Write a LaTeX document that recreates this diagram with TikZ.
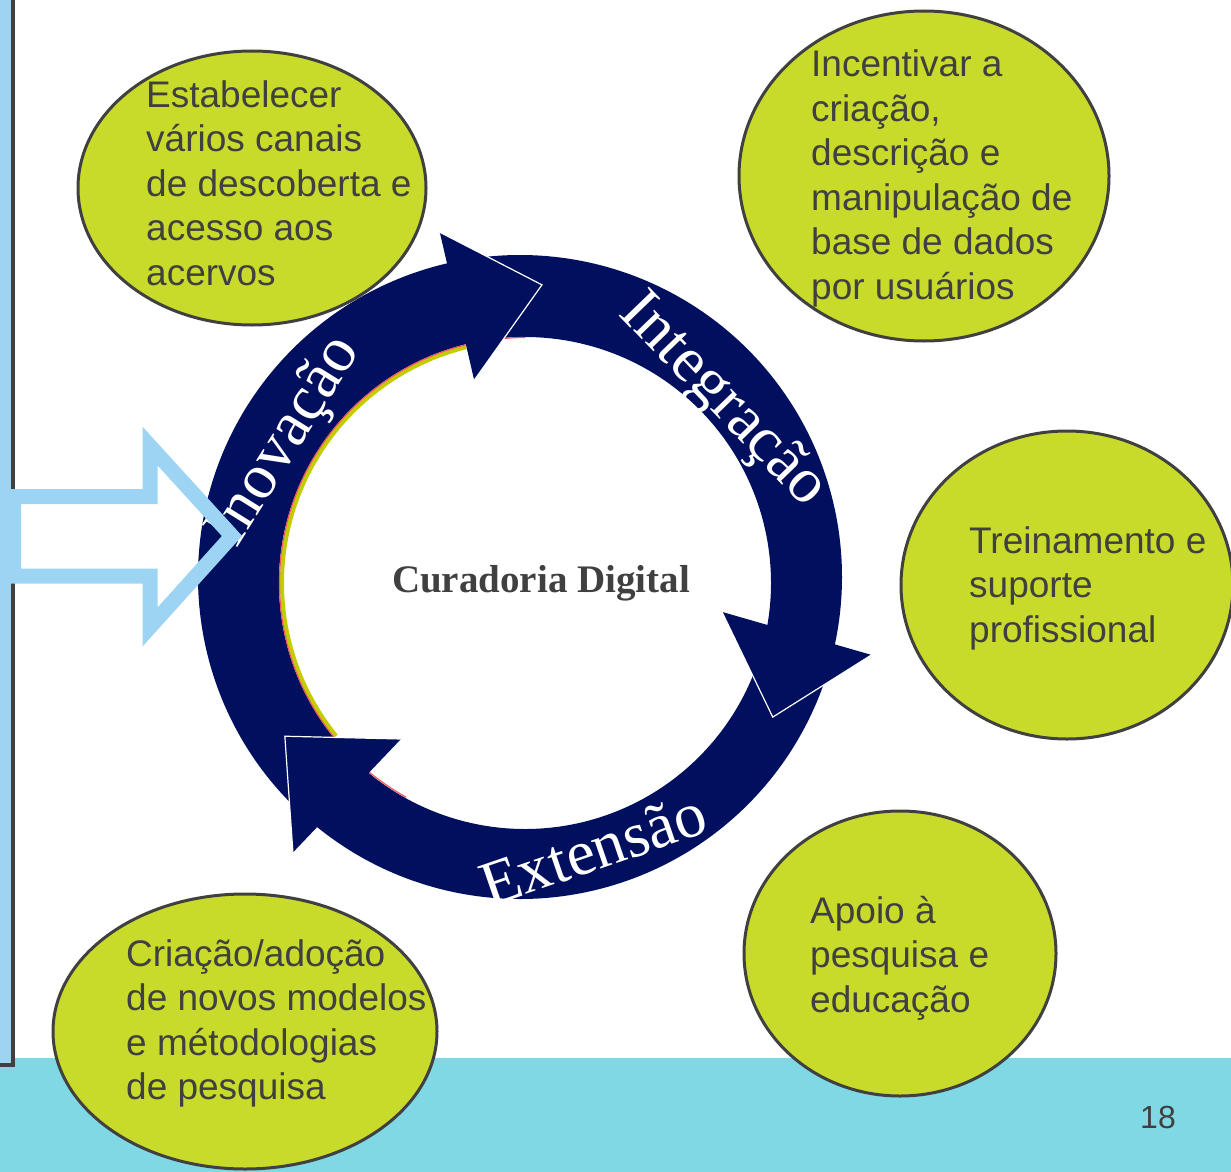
\documentclass[tikz,border=0pt]{standalone}
\usepackage{fontspec}
\setmainfont{Liberation Serif}
\setsansfont{Liberation Sans}
\usetikzlibrary{calc,shapes.geometric,positioning}
\definecolor{arcnavy}{RGB}{0,15,94}
\definecolor{bubgreen}{RGB}{201,219,42}
\definecolor{txtgray}{RGB}{64,64,64}
\definecolor{skyblue}{RGB}{157,212,243}
\definecolor{footcyan}{RGB}{128,216,228}
\definecolor{accentyg}{RGB}{196,204,0}
\definecolor{accentred}{RGB}{240,85,95}
\newcommand{\bublines}[1]{\parbox[t]{340pt}{\raggedright #1}}
\tikzset{
  bubble/.style={ellipse, draw=txtgray, line width=3pt, fill=bubgreen, inner sep=0pt},
  bubtxt/.style={anchor=base west, inner sep=0pt, text=txtgray, font=\sffamily\fontsize{37}{44.5}\selectfont},
  arctxt/.style={text=white, inner sep=0pt, font=\rmfamily\fontsize{64}{64}\selectfont},
  headedge/.style={draw=white, line width=1.2pt}
}

\begin{document}
\begin{tikzpicture}[x=1pt,y=1pt]
\useasboundingbox (0,0) rectangle (1231,-1172);
\fill[footcyan] (0,-1058) rectangle (1231,-1172);
\draw[fill=skyblue, draw=txtgray, line width=3.5pt] (-10,10) rectangle (13,-1065);

\coordinate (O) at (520,-577);
\coordinate (Oi) at (525,-583);
\fill[arcnavy] ($(O)+(228:322pt)$) arc[start angle=228, end angle=102, radius=322pt] -- ($(Oi)+(102:246pt)$) arc[start angle=102, end angle=228, radius=246pt] -- cycle;
\fill[arcnavy] ($(O)+(98:322pt)$) arc[start angle=98, end angle=-13, radius=322pt] -- ($(Oi)+(-13:246pt)$) arc[start angle=-13, end angle=98, radius=246pt] -- cycle;
\fill[arcnavy] ($(O)+(-18:322pt)$) arc[start angle=-18, end angle=-130, radius=322pt] -- ($(Oi)+(-130:246pt)$) arc[start angle=-130, end angle=-18, radius=246pt] -- cycle;
\draw[accentyg, line width=4pt] ($(Oi)+(219:243pt)$) arc[start angle=219, end angle=104, radius=243pt];
\draw[accentred, line width=1.2pt] ($(Oi)+(219:245.5pt)$) arc[start angle=219, end angle=104, radius=245.5pt];
\draw[accentred, line width=1.2pt] ($(Oi)+(104:245.5pt)$) arc[start angle=104, end angle=90, radius=245.5pt];
\draw[accentred, line width=1.2pt] ($(Oi)+(241:245pt)$) arc[start angle=241, end angle=228, radius=245pt];

\fill[arcnavy] ($(O)+(103.1:354pt)$) coordinate (inoA) -- ($(O)+(85.7:293pt)$) coordinate (inoB) -- ($(O)+(103.1:202pt)$) coordinate (inoC) -- cycle;
\draw[headedge] (inoA) -- (inoB) -- (inoC);
\fill[arcnavy] ($(O)+(-9.8:205pt)$) coordinate (intA) -- ($(O)+(-29:289pt)$) coordinate (intB) -- ($(O)+(-12.5:360pt)$) coordinate (intC) -- cycle;
\draw[headedge] (intA) -- (intB) -- (intC);
\fill[arcnavy] ($(O)+(233.7:201pt)$) coordinate (extA) -- ($(O)+(214.1:284pt)$) coordinate (extB) -- ($(O)+(230.5:357pt)$) coordinate (extC) -- cycle;
\draw[headedge] (extA) -- (extB) -- (extC);

\node[arctxt, rotate=58] (inovacao) at ($(O)+(150:270pt)$) {Inovação};
\node[arctxt, rotate=-46] (integracao) at ($(O)+(41:268pt)$) {Integração};
\node[arctxt, rotate=19] (extensao) at ($(O)+(-75:282pt)$) {Extensão};
\node[anchor=base, text=txtgray, font=\rmfamily\bfseries\fontsize{39}{39}\selectfont] (curadoria) at (541,-592.5) {Curadoria Digital};

\draw[skyblue, line width=15pt] (13.5,-496.5) -- (150,-496.5) -- (150,-446) -- (232,-536) -- (150,-627) -- (150,-576) -- (13.5,-576) -- cycle;

\node[bubble, minimum width=348pt, minimum height=274pt] (acervos) at (252,-188) {};
\node[bubble, minimum width=370pt, minimum height=330pt] (usuarios) at (924,-176) {};
\node[bubble, minimum width=332pt, minimum height=308pt] (suporte) at (1067,-585) {};
\node[bubble, minimum width=312pt, minimum height=285pt] (pesquisa) at (900,-953.5) {};
\node[bubble, minimum width=384pt, minimum height=275pt] (modelos) at (245,-1031.5) {};

\node[bubtxt] (acervostxt) at (146,-107) {\bublines{Estabelecer\\vários canais\\de descoberta e\\acesso aos\\acervos}};
\node[bubtxt] (usuariostxt) at (811,-77) {\bublines{Incentivar a\\criação,\\descrição e\\manipulação de\\base de dados\\por usuários}};
\node[bubtxt] (suportetxt) at (969,-553) {\bublines{Treinamento e\\suporte\\profissional}};
\node[bubtxt] (pesquisatxt) at (810,-923) {\bublines{Apoio à\\pesquisa e\\educação}};
\node[bubtxt] (modelostxt) at (126,-966) {\bublines{Criação/adoção\\de novos modelos\\e métodologias\\de pesquisa}};

\node[text=txtgray, font=\sffamily\fontsize{32}{32}\selectfont] (pagina) at (1158,-1117) {18};
\end{tikzpicture}
\end{document}
